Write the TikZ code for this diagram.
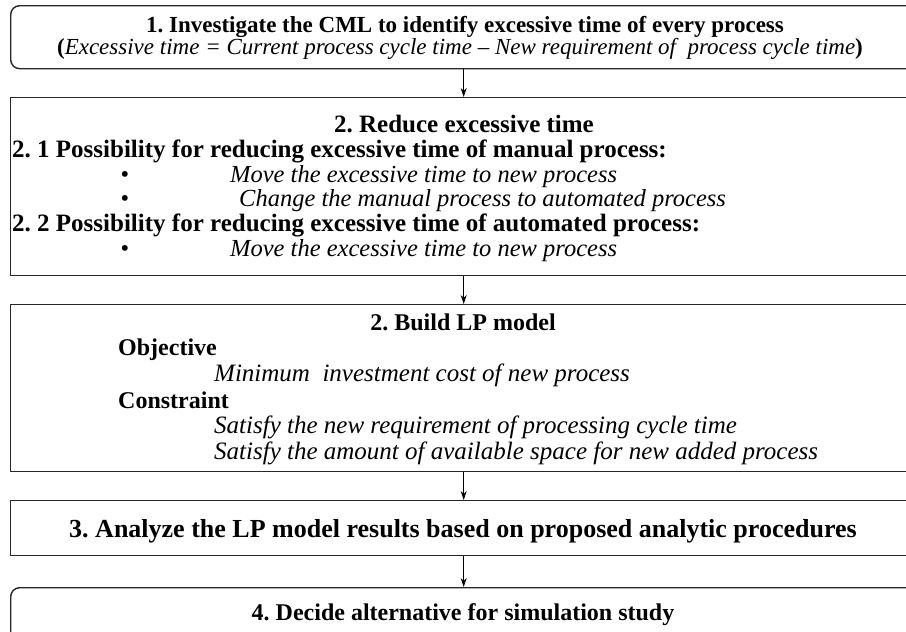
\documentclass[tikz,border=0pt]{standalone}
\usepackage{fontspec}
\setmainfont{Liberation Serif}
\usetikzlibrary{arrows.meta}
\begin{document}
\frenchspacing
\begin{tikzpicture}[x=1pt,y=-1pt,
  box/.style={draw=black!85, line width=1.4pt, anchor=north west, minimum width=906pt, inner sep=0pt},
  arr/.style={draw=black, line width=0.9pt, -{Stealth[length=9pt,width=6pt]}},
  ctr/.style={anchor=base, inner sep=0pt},
  lft/.style={anchor=base west, inner sep=0pt},
  fa/.style={font=\fontsize{23}{25}\selectfont},
  fb/.style={font=\fontsize{24.5}{26}\selectfont},
  fbb/.style={font=\fontsize{25}{26}\selectfont\bfseries},
  fc/.style={font=\fontsize{24}{26}\selectfont},
  fci/.style={font=\fontsize{25}{26}\selectfont\itshape},
  fd/.style={font=\fontsize{26}{28}\selectfont\bfseries},
]
\useasboundingbox (0,0) rectangle (906,632);
\clip (0,0) rectangle (906,632);
% boxes
\node[box, rounded corners=9pt, minimum height=63pt] (b1) at (10,5) {};
\node[box, minimum height=178pt] (b2) at (10,97) {};
\node[box, minimum height=167pt] (b3) at (10,304) {};
\node[box, minimum height=55pt] (b4) at (10,500) {};
\node[box, rounded corners=9pt, minimum height=70pt] (b5) at (10,587) {};
% arrows
\draw[arr] (b1.south) -- (b2.north);
\draw[arr] (b2.south) -- (b3.north);
\draw[arr] (b3.south) -- (b4.north);
\draw[arr] (b4.south) -- (b5.north);
% box 1
\node[ctr, fa] (t1a) at (465,32) {\bfseries 1. Investigate the CML to identify excessive time of every process};
\node[ctr, fa] (t1b) at (460,54) {\textbf{(}\textit{Excessive time = Current process cycle time – New requirement of\ \ process cycle time}\textbf{)}};
% box 2
\node[ctr, fbb] (t2a) at (464,132) {2. Reduce excessive time};
\node[lft, fbb] (t2b) at (12,157) {2. 1 Possibility for reducing excessive time of manual process:};
\node[ctr, fb] (p1) at (125,182) {•};
\node[lft, fb] (t2c) at (230,182) {\itshape Move the excessive time to new process};
\node[ctr, fb] (p2) at (125,206) {•};
\node[lft, fb] (t2d) at (239,206) {\itshape Change the manual process to automated process};
\node[lft, fbb] (t2e) at (12,231) {2. 2 Possibility for reducing excessive time of automated process:};
\node[ctr, fb] (p3) at (125,256) {•};
\node[lft, fb] (t2f) at (230,256) {\itshape Move the excessive time to new process};
% box 3
\node[ctr, fc] (t3a) at (463,330) {\bfseries 2. Build LP model};
\node[lft, fc] (t3b) at (118,355) {\bfseries Objective};
\node[lft, fci] (t3c) at (214,381) {Minimum\ \ investment cost of new process};
\node[lft, fc] (t3d) at (118,408) {\bfseries Constraint};
\node[lft, fci] (t3e) at (214,433) {Satisfy the new requirement of processing cycle time};
\node[lft, fci] (t3f) at (214,459) {Satisfy the amount of available space for new added process};
% box 4
\node[ctr, fd] (t4) at (463,537) {3. Analyze the LP model results based on proposed analytic procedures};
% box 5
\node[ctr, fc] (t5) at (463,620) {\bfseries 4. Decide alternative for simulation study};
\end{tikzpicture}
\end{document}
